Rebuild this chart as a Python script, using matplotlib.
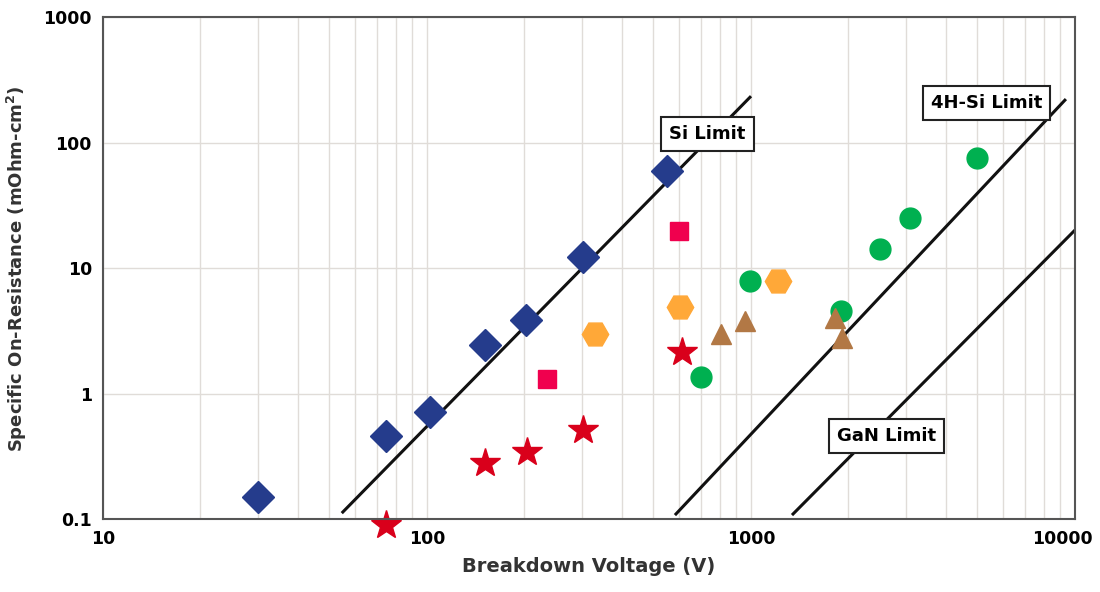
import matplotlib.pyplot as plt
import numpy as np

# device data (breakdown voltage V, Ron mOhm-cm2)
si_v = [30, 75, 102, 151, 202, 303, 551]
si_r = [0.15, 0.46, 0.71, 2.43, 3.85, 12.2, 60]
star_v = [75, 151, 203, 303, 613]
star_r = [0.09, 0.28, 0.34, 0.51, 2.14]
sq_v = [234, 600]
sq_r = [1.31, 19.7]
hex_v = [330, 605, 1211]
hex_r = [2.98, 4.89, 7.88]
circ_v = [701, 995, 1896, 2500, 3097, 4990]
circ_r = [1.35, 7.9, 4.54, 14.2, 25, 75]
tri_v = [807, 958, 1816, 1910]
tri_r = [2.98, 3.78, 4.0, 2.77]

# material limit lines (end points)
si_lim_v = [55, 993]
si_lim_r = [0.114, 230]
sic_lim_v = [587, 9310]
sic_lim_r = [0.11, 218]
gan_lim_v = [1349, 10000]
gan_lim_r = [0.11, 20.1]

plt.rcParams['font.family'] = ['DejaVu Sans']
fig = plt.figure(figsize=(11, 5.92), dpi=100)
ax = fig.add_axes([0.0936, 0.123, 0.8836, 0.848])
ax.set_xscale('log')
ax.set_yscale('log')
ax.set_xlim(10, 10000)
ax.set_ylim(0.1, 1000)

# grid: every minor decade line on x, decades only on y
ax.grid(True, which='both', axis='x', color='#e0dcd8', lw=1)
ax.grid(True, which='major', axis='y', color='#e0dcd8', lw=1)
ax.set_axisbelow(True)
ax.tick_params(which='both', length=0, labelsize=12.5, pad=8)
ax.set_xticks([10, 100, 1000, 10000])
ax.set_xticklabels(['10', '100', '1000', ''], fontweight='bold')
# last label nudged left so it stays inside the figure
ax.annotate('10000', xy=(1, 0), xycoords='axes fraction', xytext=(-9, -8),
            textcoords='offset points', ha='center', va='top',
            fontsize=12.5, fontweight='bold')
ax.set_yticks([0.1, 1, 10, 100, 1000])
ax.set_yticklabels(['0.1', '1', '10', '100', '1000'], fontweight='bold')
for s in ax.spines.values():
    s.set_color('#555555')
    s.set_linewidth(1.5)

ax.plot(si_lim_v, si_lim_r, color='#111111', lw=2.2)
ax.plot(sic_lim_v, sic_lim_r, color='#111111', lw=2.2)
ax.plot(gan_lim_v, gan_lim_r, color='#111111', lw=2.2)

ax.plot(si_v, si_r, 'D', color='#253c8c', ms=16, ls='none', clip_on=False)
ax.plot(star_v, star_r, '*', color='#d9001b', ms=22, ls='none', clip_on=False)
ax.plot(sq_v, sq_r, 's', color='#f0004e', ms=13, ls='none')
ax.plot(hex_v, hex_r, 'H', color='#ffa838', ms=19, ls='none')
ax.plot(circ_v, circ_r, 'o', color='#00b050', ms=15, ls='none')
ax.plot(tri_v, tri_r, '^', color='#b27845', ms=14, ls='none')

box = dict(boxstyle='square,pad=0.45', fc='white', ec='#222222', lw=1.5)
ax.text(0.622, 0.767, 'Si Limit', transform=ax.transAxes, ha='center', va='center',
        fontsize=13, fontweight='bold', bbox=box)
ax.text(0.909, 0.829, '4H-Si Limit', transform=ax.transAxes, ha='center', va='center',
        fontsize=13, fontweight='bold', bbox=box)
ax.text(0.806, 0.165, 'GaN Limit', transform=ax.transAxes, ha='center', va='center',
        fontsize=13, fontweight='bold', bbox=box)

ax.set_xlabel('Breakdown Voltage (V)', fontsize=14, fontweight='bold', color='#333333', labelpad=6)
ax.set_ylabel('Specific On-Resistance (mOhm-cm$^\\mathbf{2}$)', fontsize=13, fontweight='bold',
              color='#333333', labelpad=10)

fig.savefig('out.png', dpi=100)
